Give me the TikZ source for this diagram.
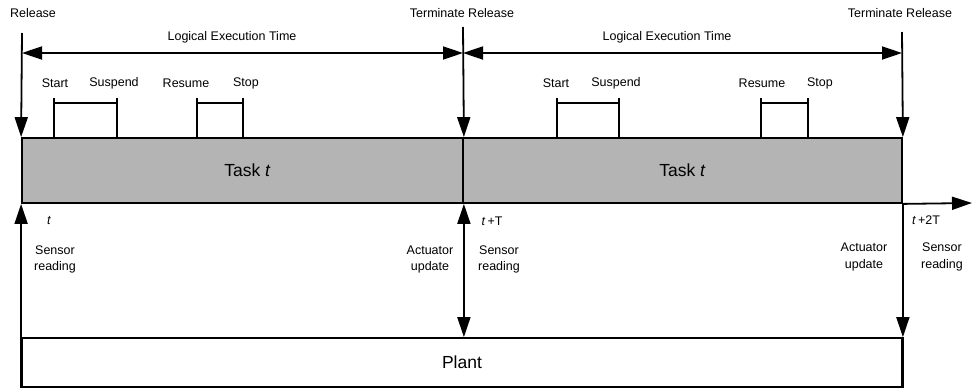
\documentclass[tikz,border=0pt]{standalone}
\usepackage{fontspec}
\setmainfont{Liberation Sans}
\usetikzlibrary{arrows.meta}
\definecolor{taskgray}{HTML}{B4B4B4}
\begin{document}
\begin{tikzpicture}[x=1pt,y=-1pt,line width=1.8pt,
  tip/.tip={Triangle[length=20pt,width=13pt]},
  arr/.style={-tip},
  darr/.style={tip-tip},
  box/.style={draw,rectangle,inner sep=0pt,font=\fontsize{17.5}{20}\selectfont},
  lbl/.style={inner sep=0pt,font=\fontsize{12.5}{16.5}\selectfont},
  lbl2/.style={lbl,align=center}]
\useasboundingbox (0,0) rectangle (972,389);
% boxes
\node[box,fill=taskgray,minimum width=441pt,minimum height=65pt] (task1) at (242.5,170.5) {\hspace*{10pt}Task \textit{t}};
\node[box,fill=taskgray,minimum width=439pt,minimum height=65pt] (task2) at (682.5,170.5) {Task \textit{t}};
\node[box,minimum width=880pt,minimum height=49pt] (plant) at (462,362.5) {Plant};
% release lines
\coordinate (r0) at (22,33);
\coordinate (r1) at (463,27);
\coordinate (r2) at (902,32);
\draw[arr] (r0) -- (task1.north west);
\draw[arr] (r1) -- (task1.north east);
\draw[arr] (r2) -- (task2.north east);
\node[lbl] (trel) at (33,13) {Release};
\node[lbl] (tterm1) at (462,13) {Terminate Release};
\node[lbl] (tterm2) at (900,13) {Terminate Release};
% LET arrows
\coordinate (l0) at (22,53);
\coordinate (l1) at (463,53);
\coordinate (l2) at (902,53);
\draw[darr] (l0) -- (l1);
\draw[darr] (l1) -- (l2);
\node[lbl] (let1) at (232,37) {Logical Execution Time};
\node[lbl] (let2) at (667,37) {Logical Execution Time};
% brackets
\foreach \a/\b/\n in {54/117/b1, 197/243/b2, 557/619/b3, 761/808/b4}{
  \coordinate (\n a) at (\a,98);
  \coordinate (\n b) at (\b,98);
  \draw (\n a) -- (\a,138);
  \draw (\n b) -- (\b,138);
  \draw (\a,103) -- (\b,103);
}
\node[lbl] (st1) at (55,83) {Start};
\node[lbl] (su1) at (114,83) {Suspend};
\node[lbl] (re1) at (186,83) {Resume};
\node[lbl] (sp1) at (246,83) {Stop};
\node[lbl] (st2) at (556,83) {Start};
\node[lbl] (su2) at (616,83) {Suspend};
\node[lbl] (re2) at (762,83) {Resume};
\node[lbl] (sp2) at (820,83) {Stop};
% time axis
\coordinate (tend) at (972,203);
\draw[arr] (task2.south east) -- (tend);
\node[lbl] (t0) at (49,221) {\textit{t}};
\node[lbl] (t1) at (492,221) {\textit{t}\,+T};
\node[lbl] (t2) at (926,220) {\textit{t}\,+2T};
% plant interaction
\draw[arr] (plant.south west) -- (task1.south west);
\draw[darr] (task1.south east) -- (task1.south east |- plant.north);
\draw[arr] (task2.south east) -- (plant.north east);
\draw (plant.north east) -- (plant.south east);
\node[lbl2] (sr0) at (55,259.5) {Sensor\\reading};
\node[lbl2] (au1) at (430,259.5) {Actuator\\update};
\node[lbl2] (sr1) at (499,259.5) {Sensor\\reading};
\node[lbl2] (au2) at (864,257) {Actuator\\update};
\node[lbl2] (sr2) at (942,257) {Sensor\\reading};
\end{tikzpicture}
\end{document}
